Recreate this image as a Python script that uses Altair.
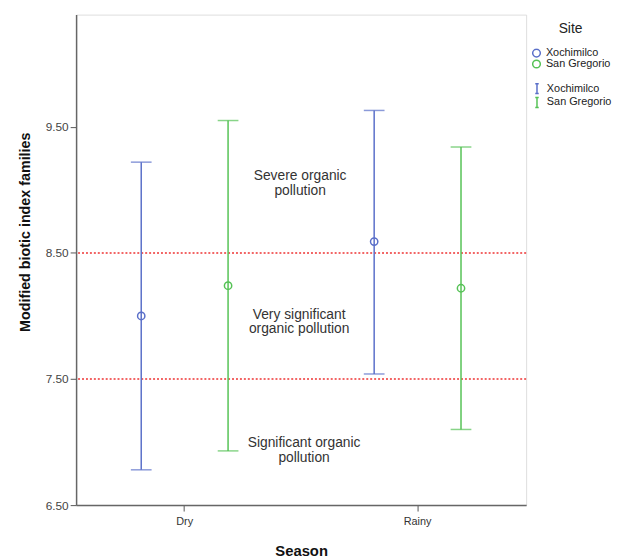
import altair as alt
import pandas as pd

seasons = ["Dry", "Dry", "Rainy", "Rainy"]
sites = ["Xochimilco", "San Gregorio", "Xochimilco", "San Gregorio"]
means = [8.00, 8.24, 8.59, 8.22]
lower = [6.78, 6.93, 7.54, 7.10]
upper = [9.22, 9.55, 9.63, 9.34]

thresholds = [8.5, 7.5]
zone_labels = ["Severe organic\npollution", "Very significant\norganic pollution", "Significant organic\npollution"]
zone_y = [9.11, 8.01, 6.99]
zone_x = [227, 226, 231]

site_order = ["Xochimilco", "San Gregorio"]
site_colors = ["#5a6fc9", "#55c255"]

df = pd.DataFrame({"Season": seasons, "Site": sites, "Site2": sites,
                   "mean": means, "lo": lower, "hi": upper})
thr = pd.DataFrame({"t": thresholds})
zones = pd.DataFrame({"label": zone_labels, "y": zone_y, "x": zone_x})

W, H = 456, 497
ydom = [6.5, 10.39]

xenc = alt.X("Season:N", sort=["Dry", "Rainy"],
             scale=alt.Scale(paddingInner=0.068, paddingOuter=0),
             axis=alt.Axis(title="Season", labelAngle=0, labelFontSize=11,
                           labelColor="#333", labelFont="Liberation Sans",
                           tickSize=6, tickColor="#555", domainColor="#666",
                           domainWidth=1.5, labelPadding=5,
                           titleFont="Liberation Sans", titleFontSize=15,
                           titleFontWeight="bold", titleColor="#111",
                           titlePadding=17))
xoff = alt.XOffset("Site:N", sort=site_order,
                   scale=alt.Scale(paddingInner=0, paddingOuter=0.25))
yscale = alt.Scale(domain=ydom, nice=False, zero=False)

base = alt.Chart(df)

rules = base.mark_rule(strokeWidth=1.5).encode(
    x=xenc, xOffset=xoff,
    y=alt.Y("lo:Q", scale=yscale,
            axis=alt.Axis(title="Modified biotic index families",
                          values=[6.5, 7.5, 8.5, 9.5], format=".2f",
                          labelFontSize=12, labelColor="#444",
                          labelFont="Liberation Sans", tickSize=6,
                          tickColor="#555", domainColor="#666", domainWidth=1.5,
                          grid=False, titleFont="Liberation Sans",
                          titleFontSize=14.5, titleFontWeight="bold",
                          titleColor="#111", titleY=220, titleX=-51,
                          titleBaseline="middle", titleAngle=-90)),
    y2="hi:Q",
    stroke=alt.Stroke("Site2:N", scale=alt.Scale(domain=site_order, range=site_colors),
                      legend=alt.Legend(title=None, orient="none", legendX=461, legendY=68,
                                        symbolType="M-0.35,-1H0.35M0,-1V1M-0.35,1H0.35",
                                        symbolSize=100, symbolStrokeWidth=1.5,
                                        symbolFillColor="transparent",
                                        labelFont="Liberation Sans", labelFontSize=11,
                                        labelColor="#222", rowPadding=0, clipHeight=14,
                                        padding=0)),
)

caps_lo = base.mark_tick(size=21, thickness=1.5).encode(
    x=xenc, xOffset=xoff, y=alt.Y("lo:Q", scale=yscale),
    color=alt.Color("Site2:N", scale=alt.Scale(domain=site_order, range=site_colors), legend=None),
)
caps_hi = base.mark_tick(size=21, thickness=1.5).encode(
    x=xenc, xOffset=xoff, y=alt.Y("hi:Q", scale=yscale),
    color=alt.Color("Site2:N", scale=alt.Scale(domain=site_order, range=site_colors), legend=None),
)

points = base.mark_point(shape="circle", filled=False, size=55, strokeWidth=1.5, opacity=1).encode(
    x=xenc, xOffset=xoff, y=alt.Y("mean:Q", scale=yscale),
    color=alt.Color("Site:N", scale=alt.Scale(domain=site_order, range=site_colors),
                    legend=alt.Legend(title="Site", orient="none", legendX=461, legendY=8,
                                      titleAnchor="middle", titleFont="Liberation Sans",
                                      titleFontSize=14, titleFontWeight="normal",
                                      titleColor="#222", symbolType="circle",
                                      symbolSize=60, symbolStrokeWidth=1.5,
                                      labelFont="Liberation Sans", labelFontSize=11,
                                      labelColor="#222", rowPadding=0, clipHeight=10,
                                      padding=0, titlePadding=12)),
)

ref = alt.Chart(thr).mark_rule(color="#ee3333", strokeDash=[2, 2], strokeWidth=1.5).encode(
    y=alt.Y("t:Q", scale=yscale)
)

texts = alt.Chart(zones).mark_text(fontSize=14, font="Liberation Sans", color="#333",
                                   lineBreak="\n", lineHeight=15, baseline="middle",
                                   align="center").encode(
    x=alt.X("x:Q", scale=None), y=alt.Y("y:Q", scale=yscale), text="label:N"
)

chart = alt.layer(ref, rules, caps_lo, caps_hi, points, texts).resolve_scale(
    color="independent"
).properties(
    width=W, height=H, padding={"left": 10, "top": 3, "right": 0, "bottom": 5}
).configure_view(stroke="#666", strokeWidth=1.5).configure(background="white")

chart.save("out.html", embed_options={"renderer": "svg", "actions": False})
